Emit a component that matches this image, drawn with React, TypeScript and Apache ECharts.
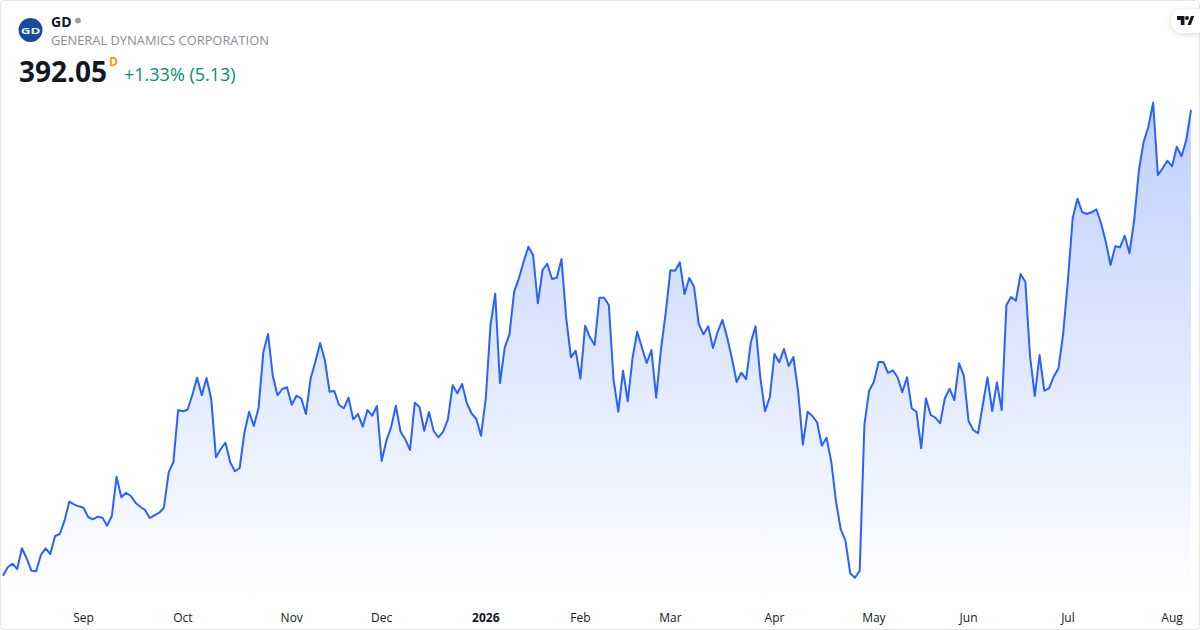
import React, { useEffect, useRef } from "react";
import * as echarts from "echarts";

const prices = [
  298.91, 300.59, 301.31, 300.25, 304.39, 302.39, 299.91, 299.79, 303.05, 304.39,
  303.25, 306.85, 307.25, 309.91, 313.71, 313.19, 312.79, 312.51, 310.65, 310.19,
  310.71, 310.51, 308.91, 310.91, 318.71, 314.59, 315.51, 314.85, 313.51, 312.71,
  312.05, 310.45, 310.99, 311.51, 312.51, 319.59, 321.65, 332.05, 331.79, 332.11,
  335.05, 338.51, 334.99, 338.45, 334.19, 322.59, 324.25, 325.51, 321.59, 319.79,
  320.45, 327.51, 331.71, 328.85, 332.51, 343.59, 347.25, 338.85, 334.99, 336.25,
  336.59, 333.11, 334.91, 334.39, 331.25, 338.39, 341.71, 345.45, 342.05, 335.71,
  335.85, 333.05, 332.39, 334.51, 330.19, 331.25, 328.71, 332.05, 330.91, 332.85,
  321.85, 325.91, 328.59, 332.91, 327.71, 326.19, 324.05, 333.51, 332.65, 327.91,
  331.65, 327.85, 326.59, 327.71, 330.19, 336.99, 335.39, 337.25, 333.39, 331.39,
  330.25, 326.91, 334.39, 349.05, 355.31, 337.45, 344.51, 347.19, 355.71, 358.39,
  361.71, 364.71, 363.05, 353.39, 360.05, 361.31, 358.25, 358.51, 362.25, 350.39,
  342.59, 343.91, 338.31, 348.91, 346.59, 345.05, 354.51, 354.51, 353.05, 338.05,
  331.71, 339.91, 333.79, 342.39, 347.71, 344.51, 341.45, 344.05, 334.51, 344.05,
  351.39, 359.99, 359.91, 361.59, 355.25, 358.45, 356.71, 349.25, 347.19, 348.79,
  344.45, 347.71, 350.05, 346.59, 342.39, 337.65, 339.51, 338.19, 345.59, 348.79,
  338.59, 331.79, 334.59, 343.25, 341.59, 344.25, 340.85, 342.65, 335.71, 325.11,
  331.71, 330.85, 329.59, 324.91, 326.51, 321.71, 313.71, 308.19, 305.91, 299.39,
  298.51, 299.85, 329.19, 335.91, 337.71, 341.65, 341.65, 339.45, 339.99, 338.59,
  335.59, 338.59, 332.39, 331.65, 324.39, 334.39, 331.05, 330.51, 329.39, 334.39,
  336.31, 334.05, 341.39, 338.91, 329.85, 328.05, 327.39, 333.05, 338.59, 331.85,
  337.59, 332.05, 353.05, 354.65, 353.91, 359.25, 357.71, 342.71, 334.85, 343.05,
  335.91, 336.39, 338.71, 340.39, 347.39, 358.05, 370.39, 374.31, 371.65, 371.25,
  371.59, 372.19, 369.39, 365.71, 361.05, 364.79, 364.59, 366.91, 363.39, 370.05,
  380.05, 385.71, 388.71, 393.51, 379.05, 380.39, 381.91, 380.79, 384.71, 382.79,
  386.05, 392.05,
];

const tickIndices = [17, 38, 61, 80, 102, 122, 141, 163, 184, 204, 225, 247];
const tickLabels = ["Sep", "Oct", "Nov", "Dec", "2026", "Feb", "Mar", "Apr", "May", "Jun", "Jul", "Aug"];
const categories = prices.map((_, i) => {
  const k = tickIndices.indexOf(i);
  return k >= 0 ? tickLabels[k] : String(i);
});

const FONT = '"Open Sans", "Noto Sans", sans-serif';

echarts.graphic.registerShape(
  "tvlogo",
  echarts.graphic.extendPath(
    "M0 0H7.5V9H3.8V4H0ZM8 2A2 2 0 1 0 12 2A2 2 0 1 0 8 2ZM14 0H17.3L13.8 9H10.5Z",
    {},
  ),
);

export default function App() {
  const ref = useRef<HTMLDivElement>(null);
  useEffect(() => {
    const chart = echarts.init(ref.current!, null, { renderer: "svg" });
    chart.setOption({
      animation: false,
      backgroundColor: "#ffffff",
      grid: { left: 3, top: 2, width: 1188, height: 600 },
      xAxis: {
        type: "category",
        boundaryGap: false,
        data: categories,
        axisLine: { show: false },
        axisTick: { show: false },
        splitLine: { show: false },
        axisLabel: {
          interval: (i: number) => tickIndices.includes(i),
          margin: 9,
          hideOverlap: false,
          fontFamily: FONT,
          fontSize: 12,
          color: "#131722",
          formatter: (v: string) => (v === "2026" ? "{b|2026}" : v),
          rich: { b: { fontFamily: FONT, fontSize: 12, fontWeight: 700, color: "#131722" } },
        },
      },
      yAxis: { type: "value", min: 293.65, max: 413.65, show: false, splitLine: { show: false } },
      series: [
        {
          type: "line",
          data: prices,
          symbol: "none",
          smooth: false,
          lineStyle: { color: "#2962ff", width: 2, join: "round" },
          areaStyle: {
            color: new echarts.graphic.LinearGradient(0, 0, 0, 1, [
              { offset: 0, color: "rgba(41,98,255,0.3)" },
              { offset: 1, color: "rgba(41,98,255,0)" },
            ]),
            opacity: 1,
          },
        },
      ],
      graphic: [
        {
          type: "rect",
          shape: { x: 0.5, y: 0.5, width: 1199, height: 629, r: 4 },
          style: { fill: "none", stroke: "#e6e6e6", lineWidth: 1 },
          silent: true,
        },
        { type: "circle", shape: { cx: 30.5, cy: 30, r: 12 }, style: { fill: "#1a4a9c" } },
        {
          type: "text",
          x: 30.5,
          y: 30,
          scaleX: 1.5,
          style: {
            text: "GD",
            fill: "#e6ebf5",
            font: `700 9px ${FONT}`,
            align: "center",
            verticalAlign: "middle",
          },
        },
        {
          type: "text",
          x: 51,
          y: 21,
          style: { text: "GD", fill: "#131722", font: `700 14px ${FONT}`, verticalAlign: "middle" },
        },
        { type: "circle", shape: { cx: 78, cy: 20.5, r: 3 }, style: { fill: "#9a9a9a" } },
        {
          type: "text",
          x: 51,
          y: 41,
          scaleX: 1.074,
          style: {
            text: "GENERAL DYNAMICS CORPORATION",
            fill: "#8a8d96",
            font: `400 12px ${FONT}`,
            verticalAlign: "middle",
          },
        },
        {
          type: "text",
          x: 19,
          y: 71,
          style: { text: "392.05", fill: "#131722", font: `700 28px ${FONT}`, verticalAlign: "middle" },
        },
        {
          type: "text",
          x: 109,
          y: 61,
          style: { text: "D", fill: "#ff9800", font: `700 12px ${FONT}`, verticalAlign: "middle" },
        },
        {
          type: "text",
          x: 124,
          y: 74,
          style: { text: "+1.33% (5.13)", fill: "#0b8c72", font: `400 18px ${FONT}`, verticalAlign: "middle" },
        },
        {
          type: "rect",
          shape: { x: 1171, y: 9, width: 40, height: 24, r: [12, 0, 0, 12] },
          style: { fill: "#ffffff", shadowBlur: 6, shadowColor: "rgba(0,0,0,0.15)", shadowOffsetY: 1 },
        },
        { type: "tvlogo", x: 1177, y: 16, style: { fill: "#131722" } },
      ],
    });
    return () => chart.dispose();
  }, []);
  return <div ref={ref} style={{ position: "fixed", left: 0, top: 0, width: 1200, height: 630 }} />;
}
